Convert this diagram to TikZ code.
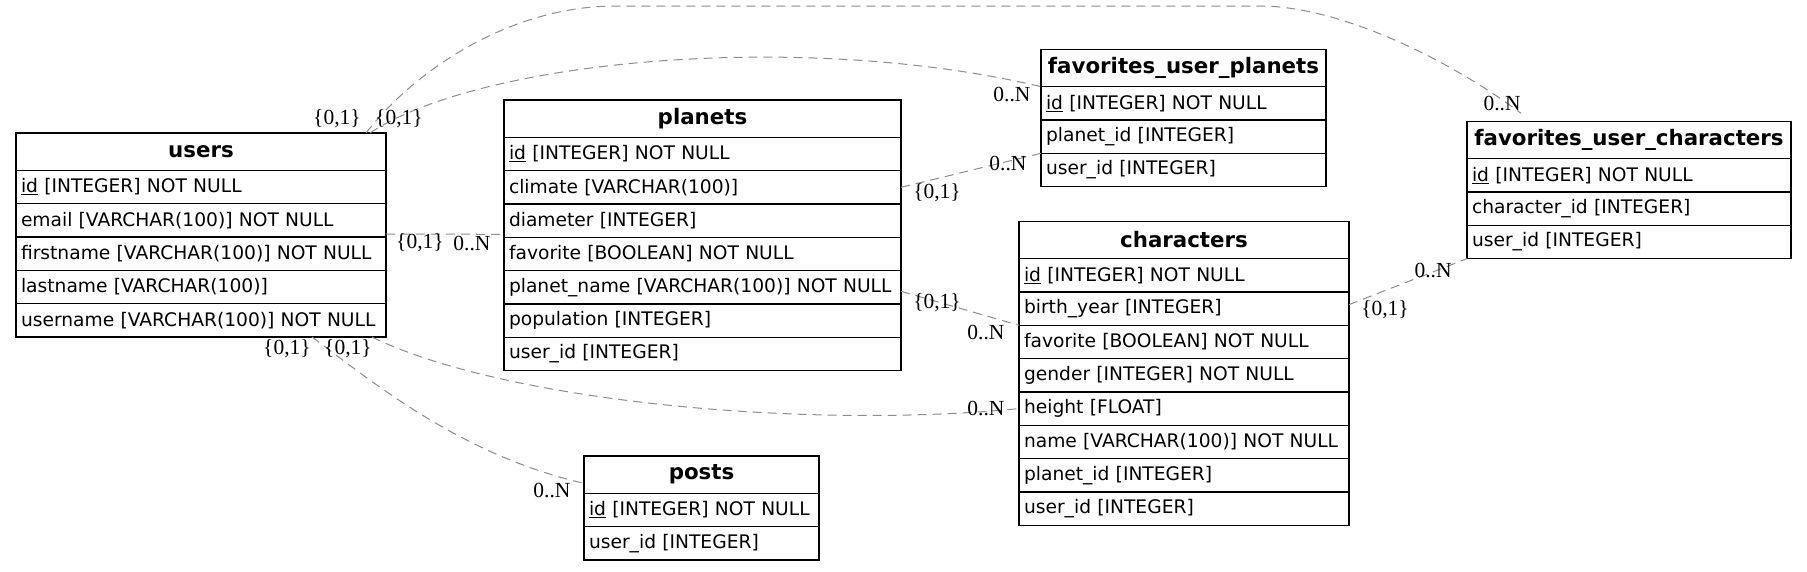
\documentclass[tikz,border=0pt]{standalone}
\usepackage{fontspec}
\setmainfont{DejaVu Sans}
\newfontfamily\cardfont{Liberation Serif}
\usetikzlibrary{positioning}

\begin{document}
\begin{tikzpicture}[x=1pt, y=-1pt,
		head/.style={draw, line width=1.2pt, anchor=north west, minimum height=37.33pt, inner xsep=5pt, inner ysep=0pt, outer sep=0pt, text width=#1, align=center, font=\fontsize{21.33}{24}\selectfont\bfseries},
		row/.style={draw, line width=1.2pt, minimum height=33.33pt, inner xsep=5pt, inner ysep=0pt, outer sep=0pt, text width=#1, align=left, font=\fontsize{18.67}{22}\selectfont},
		rel/.style={draw=black!45, line width=1pt, dash pattern=on 9pt off 6pt},
		card/.style={inner sep=0pt, font=\cardfont\fontsize{21.5}{24}\selectfont}]
		%%%%% START %%%%%
		
		\useasboundingbox (0,0) rectangle (1807,571);
		
		% users
		\node[head=360pt] (users-head) at (16,133) {users};
		\node[row=360pt, below=0pt of users-head] (users-id) {\underline{id} [INTEGER] NOT NULL};
		\node[row=360pt, below=0pt of users-id] (users-email) {email [VARCHAR(100)] NOT NULL};
		\node[row=360pt, below=0pt of users-email] (users-firstname) {firstname [VARCHAR(100)] NOT NULL};
		\node[row=360pt, below=0pt of users-firstname] (users-lastname) {lastname [VARCHAR(100)]};
		\node[row=360pt, below=0pt of users-lastname] (users-username) {username [VARCHAR(100)] NOT NULL};
		
		% planets
		\node[head=387pt] (planets-head) at (504,100) {planets};
		\node[row=387pt, below=0pt of planets-head] (planets-id) {\underline{id} [INTEGER] NOT NULL};
		\node[row=387pt, below=0pt of planets-id] (planets-climate) {climate [VARCHAR(100)]};
		\node[row=387pt, below=0pt of planets-climate] (planets-diameter) {diameter [INTEGER]};
		\node[row=387pt, below=0pt of planets-diameter] (planets-favorite) {favorite [BOOLEAN] NOT NULL};
		\node[row=387pt, below=0pt of planets-favorite] (planets-planetname) {planet\_name [VARCHAR(100)] NOT NULL};
		\node[row=387pt, below=0pt of planets-planetname] (planets-population) {population [INTEGER]};
		\node[row=387pt, below=0pt of planets-population] (planets-userid) {user\_id [INTEGER]};
		
		% favorites_user_planets
		\node[head=275pt] (fup-head) at (1041,49.3) {favorites\_user\_planets};
		\node[row=275pt, below=0pt of fup-head] (fup-id) {\underline{id} [INTEGER] NOT NULL};
		\node[row=275pt, below=0pt of fup-id] (fup-planetid) {planet\_id [INTEGER]};
		\node[row=275pt, below=0pt of fup-planetid] (fup-userid) {user\_id [INTEGER]};
		
		% favorites_user_characters
		\node[head=314pt] (fuc-head) at (1467,121.3) {favorites\_user\_characters};
		\node[row=314pt, below=0pt of fuc-head] (fuc-id) {\underline{id} [INTEGER] NOT NULL};
		\node[row=314pt, below=0pt of fuc-id] (fuc-characterid) {character\_id [INTEGER]};
		\node[row=314pt, below=0pt of fuc-characterid] (fuc-userid) {user\_id [INTEGER]};
		
		% characters
		\node[head=320pt] (chars-head) at (1019,221.3) {characters};
		\node[row=320pt, below=0pt of chars-head] (chars-id) {\underline{id} [INTEGER] NOT NULL};
		\node[row=320pt, below=0pt of chars-id] (chars-birthyear) {birth\_year [INTEGER]};
		\node[row=320pt, below=0pt of chars-birthyear] (chars-favorite) {favorite [BOOLEAN] NOT NULL};
		\node[row=320pt, below=0pt of chars-favorite] (chars-gender) {gender [INTEGER] NOT NULL};
		\node[row=320pt, below=0pt of chars-gender] (chars-height) {height [FLOAT]};
		\node[row=320pt, below=0pt of chars-height] (chars-name) {name [VARCHAR(100)] NOT NULL};
		\node[row=320pt, below=0pt of chars-name] (chars-planetid) {planet\_id [INTEGER]};
		\node[row=320pt, below=0pt of chars-planetid] (chars-userid) {user\_id [INTEGER]};
		
		% posts
		\node[head=225pt] (posts-head) at (584,456) {posts};
		\node[row=225pt, below=0pt of posts-head] (posts-id) {\underline{id} [INTEGER] NOT NULL};
		\node[row=225pt, below=0pt of posts-id] (posts-userid) {user\_id [INTEGER]};
		
		% relations
		\draw[rel] ([xshift=-20pt]users-head.north east) .. controls (415,70) and (510,6) .. (616,6) -- (1260,6) .. controls (1340,6) and (1450,60) .. ([xshift=54pt,yshift=8pt]fuc-head.north west);
		\draw[rel] ([xshift=-16pt]users-head.north east) .. controls (480,60) and (800,30) .. (fup-head.south west);
		\draw[rel] ([yshift=3pt]users-email.south east) -- ([yshift=3pt]planets-diameter.south west);
		\draw[rel] (planets-climate.east) -- (fup-planetid.south west);
		\draw[rel] ([yshift=-4pt]planets-planetname.east) -- (chars-birthyear.south west);
		\draw[rel] ([xshift=-14pt]users-username.south east) .. controls (500,400) and (800,430) .. (chars-height.west);
		\draw[rel] ([xshift=-74pt]users-username.south east) .. controls (370,380) and (460,455) .. ([yshift=10pt]posts-head.south west);
		\draw[rel] ([yshift=4pt]chars-birthyear.east) -- (fuc-userid.south west);
		
		% cardinalities
		\node[card] (c1-tail) at (337,119) {\{0,1\}};
		\node[card] (c2-tail) at (399,119) {\{0,1\}};
		\node[card] (c1-head) at (1502,103) {0..N};
		\node[card] (c2-head) at (1012,94) {0..N};
		\node[card] (c3-tail) at (420,243) {\{0,1\}};
		\node[card] (c3-head) at (472,243) {0..N};
		\node[card] (c4-tail) at (937,193) {\{0,1\}};
		\node[card] (c4-head) at (1008,163) {0..N};
		\node[card] (c5-tail) at (937,303) {\{0,1\}};
		\node[card] (c5-head) at (986,332) {0..N};
		\node[card] (c6-tail) at (348,349) {\{0,1\}};
		\node[card] (c6-head) at (986,408) {0..N};
		\node[card] (c7-tail) at (287,349) {\{0,1\}};
		\node[card] (c7-head) at (552,490) {0..N};
		\node[card] (c8-tail) at (1385,310) {\{0,1\}};
		\node[card] (c8-head) at (1433,270) {0..N};
		
		%%%%% END %%%%%
	\end{tikzpicture}
\end{document}
